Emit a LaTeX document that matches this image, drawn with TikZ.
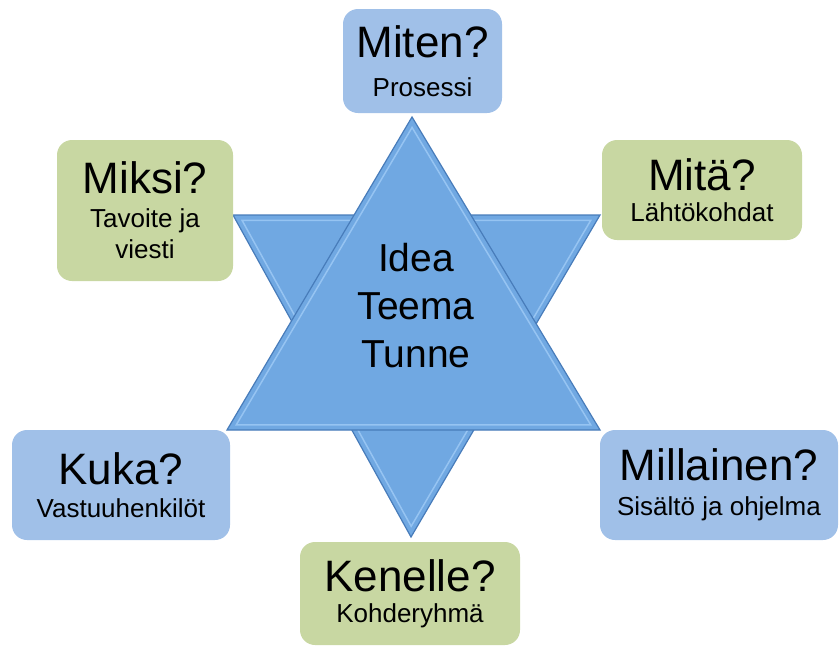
\documentclass[tikz,border=0pt]{standalone}
\usepackage{fontspec}
\setmainfont{Liberation Sans}
\usepackage{tikz}
\usetikzlibrary{calc}

\newcommand\qbig{\fontsize{44}{48}\selectfont}
\newcommand\qsub{\fontsize{26}{31}\selectfont}
\definecolor{boxblue}{RGB}{160,192,232}
\definecolor{boxgreen}{RGB}{200,215,162}
\definecolor{starfill}{RGB}{112,168,226}
\definecolor{staredge}{RGB}{72,124,186}
\definecolor{starhi}{RGB}{150,196,242}

\begin{document}
\begin{tikzpicture}[x=1pt,y=-1pt,
    qbox/.style={rounded corners=15pt, inner sep=0pt, align=center, font=\qsub},
    bluebox/.style={qbox, fill=boxblue},
    greenbox/.style={qbox, fill=boxgreen},
    startri/.style={fill=starfill, draw=staredge, line width=1.2pt, line join=miter},
    bevel/.style={draw=starhi, line width=1.5pt, line join=miter}]
            \useasboundingbox (0,0) rectangle (840,648);
            \coordinate (dl) at (233,215);
            \coordinate (dr) at (600,215);
            \coordinate (db) at (411,537);
            \coordinate (dc) at (414.7,322.3);
            \coordinate (ut) at (412,117);
            \coordinate (ul) at (227,430);
            \coordinate (ur) at (600,430);
            \coordinate (uc) at (413,325.7);
            \draw [startri] (dl) -- (dr) -- (db) -- cycle;
            \draw [bevel] ($(dc)!0.95!(dl)$) -- ($(dc)!0.95!(dr)$) -- ($(dc)!0.95!(db)$) -- cycle;
            \draw [startri] (ut) -- (ur) -- (ul) -- cycle;
            \draw [bevel] ($(uc)!0.95!(ut)$) -- ($(uc)!0.95!(ur)$) -- ($(uc)!0.95!(ul)$) -- cycle;
            \node [align=center, font=\fontsize{39}{48}\selectfont] (idea) at (416,306) {Idea\\Teema\\Tunne};
            \node [bluebox, minimum width=159, minimum height=104] (miten) at (422.5,61) {\qbig Miten?\\[8pt]Prosessi};
            \node [greenbox, minimum width=176, minimum height=141] (miksi) at (145,210.5) {\qbig Miksi?\\[3pt]Tavoite ja\\viesti};
            \node [greenbox, minimum width=200, minimum height=100] (mita) at (702,190) {\qbig Mitä?\\Lähtökohdat};
            \node [bluebox, minimum width=218, minimum height=110] (kuka) at (121,485) {\qbig Kuka?\\[2pt]Vastuuhenkilöt};
            \node [bluebox, minimum width=238, minimum height=110] (millainen) at (719,485) {\qbig Millainen?\\[4pt]Sisältö ja ohjelma};
            \node [greenbox, minimum width=220, minimum height=103] (kenelle) at (410,593.5) {\qbig Kenelle?\\Kohderyhmä};
\end{tikzpicture}
\end{document}
